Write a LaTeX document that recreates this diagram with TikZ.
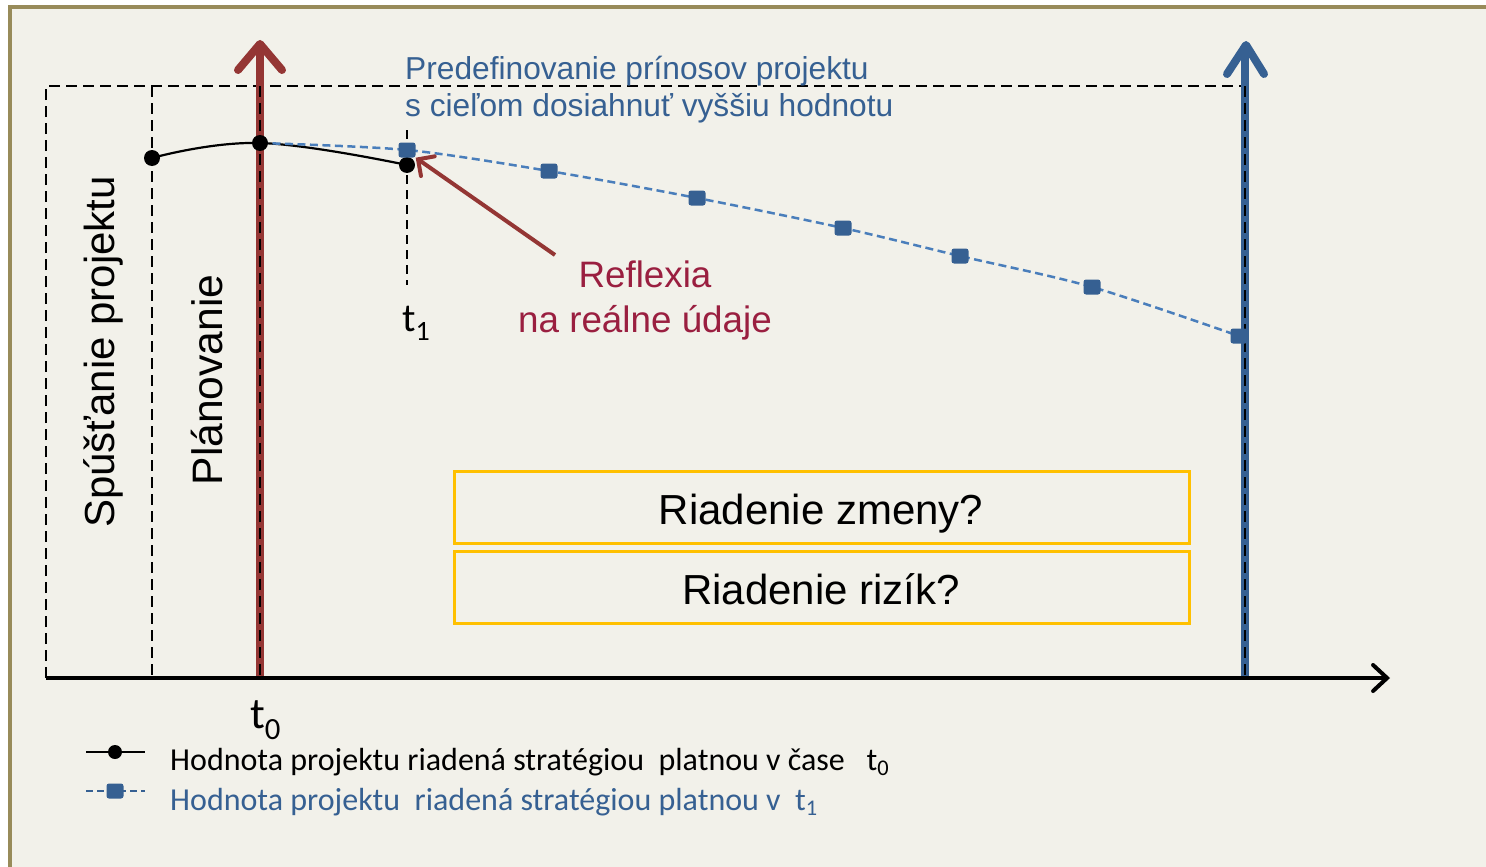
\documentclass[tikz,border=0pt]{standalone}
\usepackage{fontspec}
\setmainfont{Liberation Sans}
\newfontfamily\calfont{Carlito}
\usetikzlibrary{arrows.meta}
\definecolor{frame}{HTML}{988B5A}
\definecolor{bg}{HTML}{F2F1EA}
\definecolor{dblue}{HTML}{366092}
\definecolor{lblue}{HTML}{4A7EBB}
\definecolor{dred}{HTML}{943634}
\definecolor{crim}{HTML}{9A1F40}
\definecolor{gold}{HTML}{FFC000}
\tikzset{
  dashline/.style={line width=2.8pt, dash pattern=on 11pt off 6pt, black},
  blueline/.style={line width=2.5pt, dash pattern=on 8pt off 4.5pt, lblue},
  bdot/.style={circle, fill=black, inner sep=0pt, minimum size=16pt},
  bsq/.style={rectangle, rounded corners=2.5pt, fill=dblue, inner sep=0pt, minimum width=17pt, minimum height=15pt},
  yellowbox/.style={draw=gold, line width=3pt, minimum width=735pt, minimum height=72pt, inner sep=0pt},
  bigtxt/.style={font=\fontsize{42}{48}\selectfont, inner sep=0pt},
  legtxt/.style={font=\calfont\fontsize{32}{36}\selectfont, inner sep=0pt, anchor=base west},
}
\begin{document}
\begin{tikzpicture}[x=1pt,y=-1pt]
\useasboundingbox (0,0) rectangle (1486,867);
\fill[white] (0,0) rectangle (1486,867);
\draw[line width=4pt, draw=frame, fill=bg] (10,7) rectangle (1510,890);

% coordinates
\coordinate (o) at (46,678);
\coordinate (xend) at (1390,678);
\coordinate (rbot) at (260,678);
\coordinate (rtop) at (260,46);
\coordinate (ubot) at (1245,678);
\coordinate (utop) at (1245,49);

% dashed frame
\draw[dashline] (46,678) -- (46,86) -- (1245,86);
\draw[dashline] (152,86) -- (152,678);

% red arrow
\draw[dred, line width=8pt] (rbot) -- (rtop);
\draw[dred, line width=8pt, line cap=round, line join=round] (238,70) -- (260,44) -- (282,70);
\draw[dashline] (260,86) -- (260,678);

% blue arrow
\draw[dblue, line width=8pt] (ubot) -- (utop);
\draw[dblue, line width=8pt, line cap=round, line join=round] (1227,74) -- (1246,45) -- (1264,74);
\draw[dashline] (1245,86) -- (1245,678);

% t1 marker
\draw[line width=1.8pt, dash pattern=on 9pt off 6pt] (407,130) -- (407,285);

% axis
\draw[line width=4pt, -{Straight Barb[length=14pt,width=26pt,line cap=round]}] (o) -- (xend);

% curves
\coordinate (a0) at (152,158);
\coordinate (a1) at (260,143);
\coordinate (a2) at (407,165);
\draw[line width=2.2pt] plot[smooth, tension=0.7] coordinates {(a0) (a1) (a2)};
\coordinate (c1) at (407,150);
\coordinate (c2) at (549,171);
\coordinate (c3) at (697,198);
\coordinate (c4) at (843,228);
\coordinate (c5) at (960,256);
\coordinate (c6) at (1092,287);
\coordinate (c7) at (1239,336);
\draw[blueline] plot[smooth, tension=0.5] coordinates {(a1) (c1) (c2) (c3) (c4) (c5) (c6) (c7)};
\node[bdot] (d0) at (a0) {};
\node[bdot] (d1) at (a1) {};
\node[bdot] (d2) at (a2) {};
\node[bsq] (s1) at (c1) {};
\node[bsq] (s2) at (c2) {};
\node[bsq] (s3) at (c3) {};
\node[bsq] (s4) at (c4) {};
\node[bsq] (s5) at (c5) {};
\node[bsq] (s6) at (c6) {};
\node[bsq] (s7) at (c7) {};

% texts
\node[font=\fontsize{31.7}{36}\selectfont, text=dblue, inner sep=0pt, anchor=base west] (pre1) at (405,79) {Predefinovanie prínosov projektu};
\node[font=\fontsize{31.7}{36}\selectfont, text=dblue, inner sep=0pt, anchor=base west] (pre2) at (405,117) {s cieľom dosiahnuť vyššiu hodnotu};

\node[bigtxt, rotate=90, anchor=base] (spu) at (114,352) {Spúšťanie projektu};
\node[bigtxt, font=\fontsize{42.6}{48}\selectfont, rotate=90, anchor=base] (pla) at (222,380) {Plánovanie};

\node[font=\fontsize{36.8}{42}\selectfont, text=crim, inner sep=0pt, anchor=base] (ref1) at (645,287) {Reflexia};
\node[font=\fontsize{36.8}{42}\selectfont, text=crim, inner sep=0pt, anchor=base] (ref2) at (645,332) {na reálne údaje};
\coordinate (rs) at (555,255);
\draw[dred, line width=4pt, -{Straight Barb[length=12pt,width=24pt,line cap=round]}] (rs) -- (s1.south east);

\node[font=\calfont\fontsize{40}{44}\selectfont, inner sep=0pt, anchor=base west] (t1) at (402,331) {t\textsubscript{1}};
\node[font=\calfont\fontsize{44}{50}\selectfont, inner sep=0pt, anchor=base west] (t0) at (250,728) {t\textsubscript{0}};

% yellow boxes
\node[yellowbox] (box1) at (821.5,507) {};
\node[yellowbox] (box2) at (821.5,587) {};
\node[bigtxt, anchor=base] at (821,524) {Riadenie zmeny?};
\node[bigtxt, anchor=base] at (821,604) {Riadenie rizík?};

% legend
\coordinate (l1a) at (86,752);
\coordinate (l1b) at (145,752);
\coordinate (l2a) at (86,791);
\coordinate (l2b) at (145,791);
\draw[line width=2.2pt] (l1a) -- (l1b);
\node[bdot, minimum size=14pt] (ld) at (115,752) {};
\draw[line width=2.2pt, dash pattern=on 7pt off 4pt, dblue] (l2a) -- (l2b);
\node[bsq] (ls) at (115,791) {};
\node[legtxt] (leg1) at (170,770) {Hodnota projektu riadená stratégiou\ \ platnou v čase\ \ \ t\textsubscript{0}};
\node[legtxt, text=dblue] (leg2) at (170,810) {Hodnota projektu\ \ riadená stratégiou platnou v\ \ t\textsubscript{1}};
\end{tikzpicture}
\end{document}
